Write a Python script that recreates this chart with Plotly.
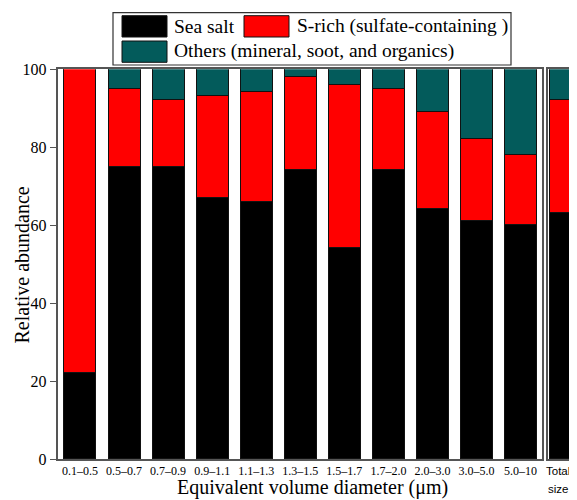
import plotly.graph_objects as go

# ---------------- data ----------------
categories = ["0.1–0.5", "0.5–0.7", "0.7–0.9", "0.9–1.1", "1.1–1.3", "1.3–1.5",
              "1.5–1.7", "1.7–2.0", "2.0–3.0", "3.0–5.0", "5.0–10"]
sea_salt = [22, 75, 75, 67, 66, 74, 54, 74, 64, 61, 60]
s_rich = [78, 20, 17, 26, 28, 24, 42, 21, 25, 21, 18]
others = [0, 5, 8, 7, 6, 2, 4, 5, 11, 18, 22]

total_category = ["Total size"]
total_sea_salt = [63]
total_s_rich = [29]
total_others = [8]

series_names = ["Sea salt", "S-rich (sulfate-containing )", "Others (mineral, soot, and organics)"]
series_colors = ["#000000", "#FF0000", "#035B5B"]
y_ticks = [0, 20, 40, 60, 80, 100]

# ---------------- layout helpers ----------------
# the page body keeps its default 8px margin, so the figure is offset by 8px
OFF = 8
W, H = 577 - OFF, 500 - OFF
SERIF = "Liberation Serif"
SANS = "Liberation Sans"
AX = "#555555"


def px(x):
    return (x - OFF) / W


def py(y):
    return 1 - (y - OFF) / H


fig = go.Figure()

main_series = [sea_salt, s_rich, others]
total_series = [total_sea_salt, total_s_rich, total_others]
for name, color, vals, tvals in zip(series_names, series_colors, main_series, total_series):
    fig.add_trace(go.Bar(
        x=list(range(len(categories))), y=vals, name=name,
        marker=dict(color=color, line=dict(color="#111111", width=1)),
        width=0.727, xaxis="x", yaxis="y", showlegend=False,
    ))
    fig.add_trace(go.Bar(
        x=[0], y=tvals, name=name,
        marker=dict(color=color, line=dict(color="#111111", width=1)),
        width=0.727, xaxis="x2", yaxis="y2", showlegend=False,
    ))

y_top, y_bot = 69.3, 459.3

fig.update_layout(
    width=W, height=H,
    margin=dict(l=0, r=0, t=0, b=0),
    paper_bgcolor="white", plot_bgcolor="white",
    barmode="stack", bargap=0,
    font=dict(family=SERIF, color="black"),
    xaxis=dict(
        domain=[px(57.5), px(541.7)], range=[-0.51, 10.48],
        tickmode="array", tickvals=list(range(len(categories))), ticktext=categories,
        tickfont=dict(family=SERIF, size=12, color="black"),
        ticks="", showgrid=False, zeroline=False,
        showline=True, linecolor=AX, linewidth=1.5, mirror=True,
        automargin=False, fixedrange=True,
    ),
    yaxis=dict(
        domain=[py(y_bot), py(y_top)], range=[0, 100],
        tickmode="array", tickvals=y_ticks, ticktext=[str(v) for v in y_ticks],
        tickfont=dict(family=SERIF, size=16, color="black"),
        ticks="outside", ticklen=6, tickwidth=1.2, tickcolor=AX,
        showgrid=False, zeroline=False,
        showline=True, linecolor=AX, linewidth=1.5, mirror=True,
        automargin=False, fixedrange=True,
    ),
    xaxis2=dict(
        domain=[px(548), 1.0], range=[-0.398, 0.26], anchor="y2",
        showticklabels=False, ticks="", showgrid=False, zeroline=False,
        showline=True, linecolor=AX, linewidth=1.5, mirror=True,
        automargin=False, fixedrange=True,
    ),
    yaxis2=dict(
        domain=[py(y_bot), py(y_top)], range=[0, 100], anchor="x2",
        showticklabels=False, ticks="", showgrid=False, zeroline=False,
        showline=True, linecolor=AX, linewidth=1.5, mirror=False,
        automargin=False, fixedrange=True,
    ),
)

annotations = [
    dict(text="Relative abundance", x=px(21), y=py(265.5), xref="paper", yref="paper",
         textangle=-90, showarrow=False, xanchor="center", yanchor="middle",
         font=dict(family=SERIF, size=20, color="black")),
    dict(text="Equivalent volume diameter (μm)", x=px(312), y=py(487), xref="paper", yref="paper",
         showarrow=False, xanchor="center", yanchor="middle",
         font=dict(family=SERIF, size=20, color="black")),
    dict(text=total_category[0].split(" ")[0], x=px(558), y=py(470.5), xref="paper", yref="paper",
         showarrow=False, xanchor="center", yanchor="middle",
         font=dict(family=SANS, size=11.5, color="black")),
    dict(text=total_category[0].split(" ")[1], x=px(558), y=py(488.5), xref="paper", yref="paper",
         showarrow=False, xanchor="center", yanchor="middle",
         font=dict(family=SANS, size=11.5, color="black")),
]

# ---------------- custom legend ----------------
shapes = [dict(type="rect", xref="paper", yref="paper",
               x0=px(113), x1=px(511), y0=py(65), y1=py(12.7),
               line=dict(color="#333333", width=1.2), fillcolor="white", layer="above")]
legend_slots = [(122, 15.7, 172, 26.4), (244, 15.7, 295, 26.4), (122, 41, 172, 51.5)]
for (sx, sy, tx, ty), name, color in zip(legend_slots, series_names, series_colors):
    shapes.append(dict(type="rect", xref="paper", yref="paper",
                       x0=px(sx), x1=px(sx + 45), y0=py(sy + 21.3), y1=py(sy),
                       line=dict(color="#111111", width=1), fillcolor=color, layer="above"))
    annotations.append(dict(text=name, x=px(tx), y=py(ty), xref="paper", yref="paper",
                            showarrow=False, xanchor="left", yanchor="middle",
                            font=dict(family=SERIF, size=19.5, color="black")))

fig.update_layout(shapes=shapes, annotations=annotations)

fig.write_html("out.html", config={"displayModeBar": False})
